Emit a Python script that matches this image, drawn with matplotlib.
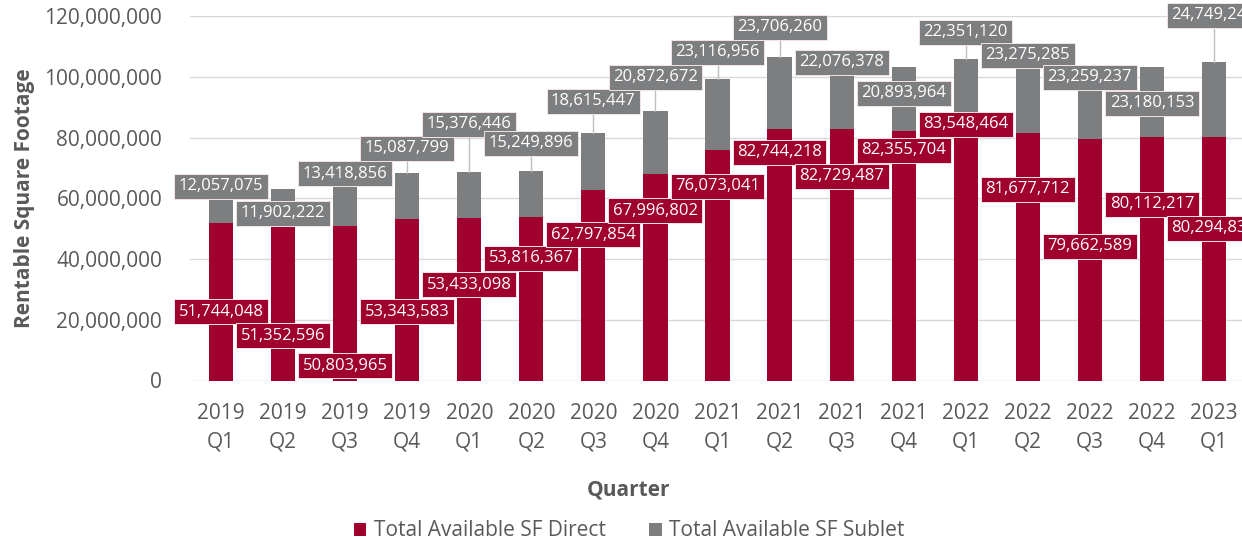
import matplotlib
matplotlib.use("Agg")
import matplotlib.pyplot as plt
from matplotlib.ticker import FuncFormatter
from matplotlib.patches import Patch
import numpy as np

plt.rcParams['font.family'] = ['Open Sans', 'DejaVu Sans']

years = ["2019", "2019", "2019", "2019", "2020", "2020", "2020", "2020",
         "2021", "2021", "2021", "2021", "2022", "2022", "2022", "2022", "2023"]
quarters = ["Q1", "Q2", "Q3", "Q4", "Q1", "Q2", "Q3", "Q4",
            "Q1", "Q2", "Q3", "Q4", "Q1", "Q2", "Q3", "Q4", "Q1"]

direct_sf = [51744048, 51352596, 50803965, 53343583, 53433098, 53816367,
             62797854, 67996802, 76073041, 82744218, 82729487, 82355704,
             83548464, 81677712, 79662589, 80112217, 80294835]
sublet_sf = [12057075, 11902222, 13418856, 15087799, 15376446, 15249896,
             18615447, 20872672, 23116956, 23706260, 22076378, 20893964,
             22351120, 23275285, 23259237, 23180153, 24749245]

# vertical placement of the value labels (in square feet)
direct_label_y = [22.7e6, 14.8e6, 4.9e6, 22.7e6, 31.6e6, 40.2e6, 48.1e6, 56.0e6,
                  64.0e6, 75.2e6, 67.3e6, 75.8e6, 84.4e6, 63.0e6, 44.2e6, 58.0e6, 50.1e6]
sublet_label_y = [64.0e6, 55.1e6, 68.2e6, 76.5e6, 84.4e6, 78.1e6, 92.0e6, 99.9e6,
                  108.1e6, 116.4e6, 104.8e6, 94.6e6, 114.7e6, 107.1e6, 99.9e6, 91.3e6, 120.3e6]

RED = "#A0002E"
GRAY = "#7D7E80"
TXT = "#595959"

W, H = 1242, 546
fig = plt.figure(figsize=(W / 100, H / 100), dpi=100)
ax = fig.add_axes([190 / W, 1 - 380.5 / H, 1055 / W, 364.2 / H])

x = np.arange(len(years))
direct = np.array(direct_sf, dtype=float)
sublet = np.array(sublet_sf, dtype=float)

ax.bar(x, direct, width=0.39, color=RED, zorder=2)
ax.bar(x, sublet, width=0.39, bottom=direct, color=GRAY, zorder=2)

ax.set_xlim(-0.5, len(x) - 0.5)
ax.set_ylim(0, 120e6)
ax.set_yticks(np.arange(0, 120e6 + 1, 20e6))
ax.yaxis.set_major_formatter(FuncFormatter(lambda v, p: f"{int(v):,}"))
ax.grid(axis="y", color="#D9D9D9", linewidth=1.0, zorder=0)
ax.set_axisbelow(True)
for s in ax.spines.values():
    s.set_visible(False)
ax.tick_params(axis="both", length=0, colors=TXT, labelsize=15)
ax.tick_params(axis="y", pad=20)
ax.tick_params(axis="x", pad=16)
ax.set_xticks(x)
ax.set_xticklabels([f"{y}\n{q}" for y, q in zip(years, quarters)], linespacing=1.5)

# leader lines from sublet labels down to the bar tops
half_box = 13 / 3.035 * 1e6
for i in range(len(x)):
    top = direct[i] + sublet[i]
    low = sublet_label_y[i] - half_box
    if low > top + 1.5e6:
        ax.plot([x[i], x[i]], [top, low], color="#BFBFBF", linewidth=1.0,
                zorder=3, clip_on=False)

box_kw = dict(boxstyle="square,pad=0.27", linewidth=0.7, edgecolor="#F4E4E8")
for i in range(len(x)):
    ax.text(x[i], sublet_label_y[i], f"{sublet_sf[i]:,}", ha="center", va="center",
            fontsize=12, color="white", zorder=5, clip_on=False,
            bbox=dict(facecolor=GRAY, **box_kw))
for i in range(len(x)):
    ax.text(x[i], direct_label_y[i], f"{direct_sf[i]:,}", ha="center", va="center",
            fontsize=12, color="white", zorder=6, clip_on=False,
            bbox=dict(facecolor=RED, **box_kw))

fig.text(25 / W, 1 - 198 / H, "Rentable Square Footage", rotation=90,
         ha="center", va="center", fontsize=15, fontweight="bold", color=TXT)
fig.text(628 / W, 1 - 490 / H, "Quarter", ha="center", va="center",
         fontsize=15, fontweight="bold", color=TXT)

handles = [Patch(facecolor=RED, label="Total Available SF Direct"),
           Patch(facecolor=GRAY, label="Total Available SF Sublet")]
fig.legend(handles=handles, loc="center", bbox_to_anchor=(629 / W, 1 - 531 / H),
           ncol=2, frameon=False, fontsize=15, handlelength=0.6, handleheight=0.6,
           handletextpad=0.35, columnspacing=2.1, labelcolor=TXT)

fig.savefig("out.png", dpi=100)
